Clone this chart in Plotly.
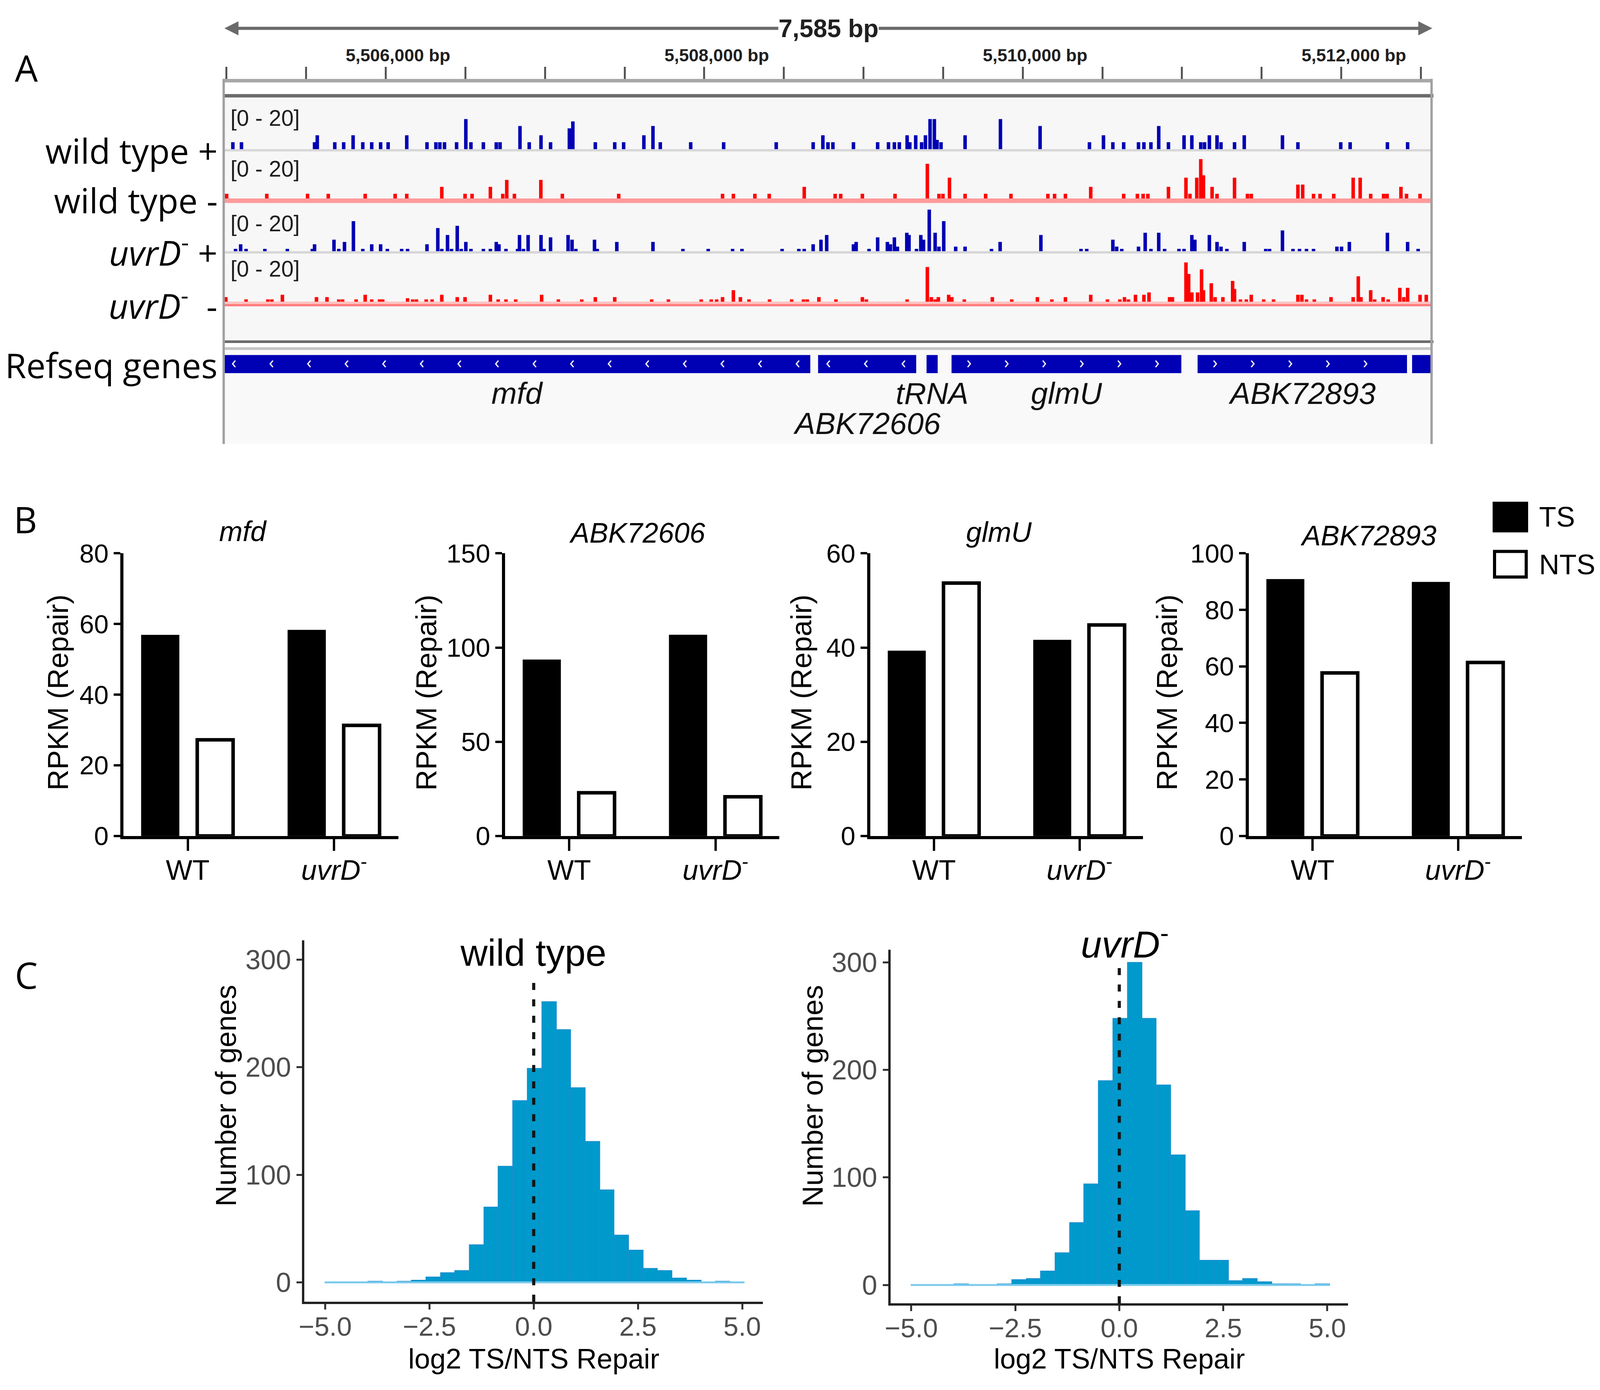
import plotly.graph_objects as go

# reference is 4278 x 3558; the photographed page shows 4096 x 3558 css px
# with the usual 8 px body margin, so positions are mapped into that area
REF_W, REF_H = 4278, 3558
VIEW_W, MARGIN = 4096, 8
W, H = VIEW_W - MARGIN, REF_H - MARGIN
SX = VIEW_W / REF_W
FS = 0.975


def fx(p):
    return (p * SX - MARGIN) / W


def fy(p):
    return 1 - (p - MARGIN) / H


def fs(size):
    return round(size * FS)


# ---------------- panel A : genome browser view ----------------
view_start = 5504987
view_end = 5512572
ruler_ticks = list(range(5505000, 5512600, 500))
ruler_labels = [5506000, 5508000, 5510000, 5512000]

wt_plus_pos = [
    5505040, 5505094, 5505553, 5505570, 5505680, 5505736, 5505795, 5505856, 5505912, 5505968,
    5506015, 5506132, 5506259, 5506315, 5506340, 5506369, 5506445, 5506503, 5506535, 5506613,
    5506694, 5506718, 5506843, 5506901, 5506975, 5507035, 5507153, 5507175, 5507316, 5507438,
    5507494, 5507621, 5507678, 5507724, 5507915, 5508122, 5508452, 5508684, 5508745, 5508777,
    5508808, 5508937, 5509089, 5509157, 5509194, 5509225, 5509274, 5509291, 5509328, 5509365,
    5509389, 5509418, 5509445, 5509462, 5509487, 5509638, 5509860, 5510109, 5510419, 5510507,
    5510566, 5510634, 5510727, 5510761, 5510805, 5510854, 5510915, 5511013, 5511062, 5511118,
    5511142, 5511172, 5511220, 5511245, 5511330, 5511391, 5511631, 5511728, 5511997, 5512056,
    5512290, 5512417,
]
wt_plus_val = [
    3, 3, 3, 6, 3, 3, 6, 3, 3, 3,
    3, 6, 3, 3, 3, 3, 3, 13, 3, 3,
    3, 3, 10, 3, 6, 3, 9, 12, 3, 3,
    3, 6, 10, 3, 3, 3, 3, 3, 6, 3,
    3, 3, 3, 3, 3, 3, 6, 3, 6, 3,
    6, 13, 13, 4, 3, 6, 13, 10, 3, 6,
    3, 3, 3, 3, 3, 10, 3, 6, 6, 3,
    3, 6, 6, 3, 3, 6, 6, 3, 3, 3,
    3, 3,
]

wt_minus_pos = [
    5505001, 5505253, 5505509, 5505639, 5505871, 5506059, 5506132, 5506352, 5506498, 5506542,
    5506657, 5506735, 5506760, 5506808, 5506974, 5507109, 5507463, 5508115, 5508183, 5508318,
    5508408, 5508628, 5508822, 5508857, 5508993, 5509198, 5509401, 5509474, 5509499, 5509540,
    5509638, 5509767, 5509926, 5510158, 5510200, 5510268, 5510427, 5510634, 5510720, 5510756,
    5510786, 5510915, 5511025, 5511050, 5511093, 5511118, 5511135, 5511189, 5511220, 5511330,
    5511411, 5511435, 5511728, 5511758, 5511826, 5511867, 5511953, 5512075, 5512119, 5512185,
    5512266, 5512288, 5512375, 5512410, 5512495,
]
wt_minus_val = [
    2, 2, 2, 2, 2, 2, 2, 5, 2, 2,
    5, 2, 8, 2, 8, 2, 2, 2, 2, 2,
    2, 5, 2, 2, 2, 2, 15, 2, 2, 9,
    2, 2, 2, 2, 2, 2, 5, 2, 2, 2,
    2, 5, 9, 2, 9, 17, 10, 5, 2, 9,
    2, 2, 6, 6, 2, 2, 2, 9, 9, 2,
    2, 2, 5, 2, 2,
]

uvrd_plus_pos = [
    5505057, 5505089, 5505123, 5505241, 5505382, 5505539, 5505553, 5505675, 5505705, 5505741,
    5505797, 5505856, 5505912, 5505968, 5506010, 5506100, 5506137, 5506259, 5506327, 5506352,
    5506388, 5506413, 5506449, 5506474, 5506503, 5506535, 5506613, 5506657, 5506694, 5506711,
    5506755, 5506828, 5506840, 5506865, 5506894, 5506975, 5506994, 5507035, 5507145, 5507170,
    5507194, 5507311, 5507328, 5507451, 5507678, 5507866, 5508025, 5508178, 5508237, 5508489,
    5508594, 5508628, 5508684, 5508733, 5508769,
    5508937, 5508954, 5509035, 5509089, 5509150, 5509169, 5509194, 5509213, 5509272, 5509286,
    5509333, 5509360, 5509377, 5509413, 5509450, 5509474, 5509504, 5509579, 5509638, 5509804,
    5509858, 5510114, 5510366, 5510402, 5510566, 5510590, 5510622, 5510727, 5510769, 5510805,
    5510854, 5510891, 5510981, 5511013, 5511062, 5511081, 5511172, 5511220, 5511245, 5511282,
    5511391, 5511526, 5511550, 5511631, 5511697, 5511738, 5511782, 5511826, 5511973, 5512002,
    5512051, 5512290, 5512417, 5512483,
]
uvrd_plus_val = [
    1, 3, 1, 1, 1, 1, 3, 5, 1, 4,
    13, 1, 3, 3, 1, 1, 1, 3, 10, 1,
    7, 1, 11, 1, 4, 1, 1, 1, 4, 3,
    1, 1, 7, 1, 7, 7, 1, 6, 7, 5,
    1, 5, 1, 4, 4, 1, 1, 1, 1, 1,
    1, 1, 3, 5, 7,
    3, 4, 1, 6, 4, 3, 6, 2, 8, 7,
    1, 7, 5, 18, 8, 2, 13, 2, 2, 1,
    4, 7, 1, 1, 5, 2, 1, 2, 8, 1,
    8, 1, 1, 1, 7, 5, 7, 4, 2, 1,
    4, 1, 1, 9, 1, 1, 1, 1, 2, 2,
    4, 8, 4, 1,
]

uvrd_minus_pos = [
    5504996, 5505123, 5505260, 5505285, 5505351, 5505565, 5505631, 5505705, 5505729, 5505814,
    5505871, 5505912, 5505961, 5505981, 5506137, 5506169, 5506193, 5506254, 5506291, 5506352,
    5506449, 5506498, 5506657, 5506706, 5506755, 5506816, 5506979, 5507084, 5507231, 5507316,
    5507438, 5507670, 5507775, 5507981, 5508044, 5508078, 5508115, 5508183, 5508227, 5508281,
    5508410, 5508549, 5508623, 5508647, 5508720,
    5508827, 5508993, 5509018, 5509274, 5509401, 5509426, 5509450, 5509470, 5509535, 5509555,
    5509633, 5509809, 5509931, 5510092, 5510183, 5510268, 5510427, 5510532, 5510610, 5510639,
    5510664, 5510708, 5510761, 5510793, 5510922, 5510940, 5511025, 5511042, 5511062, 5511098,
    5511123, 5511135, 5511184, 5511208, 5511257, 5511318, 5511330, 5511367, 5511404, 5511435,
    5511513, 5511575, 5511728, 5511753, 5511782, 5511831, 5511936, 5512075, 5512107, 5512124,
    5512185, 5512210, 5512263, 5512295, 5512368, 5512393, 5512417, 5512495, 5512534,
]
uvrd_minus_val = [
    2, 1, 1, 1, 3, 2, 2, 1, 1, 1,
    3, 1, 1, 1, 1.5, 1, 1, 1, 1, 3,
    2, 2, 3, 1, 1, 1, 3, 1, 1, 2,
    2, 1, 1, 1, 1, 1, 2, 5, 2, 1,
    1, 1, 1, 1, 2,
    1, 2, 1, 1, 15, 2, 1, 2, 3, 2,
    1, 2, 1, 2, 1, 2, 3, 1, 1, 2,
    1, 3, 3, 4, 2, 2, 17, 12, 4, 4,
    14, 5, 8, 2, 2, 9, 5.5, 1, 1, 3,
    1, 1, 3, 3, 1, 1, 2, 2, 11, 2,
    5, 1, 2, 1, 6, 2, 6, 3, 3,
]

gene_names = ["mfd", "ABK72606", "tRNA", "glmU", "ABK72893", ""]
gene_start = [5504500, 5508715, 5509396, 5509553, 5511098, 5512445]
gene_end = [5508666, 5509331, 5509466, 5510996, 5512413, 5513100]
gene_strand = ["-", "-", "", "+", "+", "+"]
gene_label_row = [0, 1, 0, 0, 0, 0]

# ---------------- panel B : RPKM bars ----------------
genes_b = ["mfd", "ABK72606", "glmU", "ABK72893"]
strains = ["WT", "uvrD-"]
strain_labels = ["WT", "<i>uvrD</i><sup>-</sup>"]
ts_rpkm = [[56.6, 58.0], [93.0, 106.2], [39.1, 41.4], [90.5, 89.5]]
nts_rpkm = [[27.2, 31.3], [22.9, 20.8], [53.7, 44.8], [57.7, 61.4]]
b_ymax = [80, 150, 60, 100]
b_dtick = [20, 50, 20, 20]

# ---------------- panel C : histograms ----------------
bin_centers = [-4.84, -4.49, -4.15, -3.80, -3.45, -3.10, -2.76, -2.41, -2.06, -1.72,
               -1.37, -1.02, -0.68, -0.33, 0.02, 0.37, 0.71, 1.06, 1.41, 1.75,
               2.10, 2.45, 2.79, 3.14, 3.49, 3.84, 4.18, 4.53, 4.88]
bin_width = 0.347
wt_counts = [0, 0, 0, 1, 0, 1, 2, 5, 9, 11,
             35, 70, 108, 169, 199, 261, 235, 181, 131, 86,
             44, 30, 13, 11, 4, 2, 0, 1, 0]
uvrd_counts = [0, 0, 0, 1, 0, 0, 1, 5, 6, 13,
               30, 58, 94, 190, 248, 300, 248, 186, 121, 69,
               23, 23, 4, 6, 3, 1, 1, 0, 1]
wt_vline_top = 285
uvrd_vline_top = 300

BLUE = "#0000b4"
RED = "#ff0000"
HIST = "#0099cc"
SANS = "Liberation Sans"
IGV = "Open Sans"

fig = go.Figure()
shapes = []
ann = []

# track frame and backgrounds
A_L, A_R = 586.5, 3828
shapes += [
    dict(type="rect", xref="paper", yref="paper", x0=fx(A_L), x1=fx(A_R), y0=fy(216), y1=fy(851),
         fillcolor="#f7f7f7", line_width=0, layer="below"),
    dict(type="rect", xref="paper", yref="paper", x0=fx(A_L), x1=fx(A_R), y0=fy(876), y1=fy(1122),
         fillcolor="#f9f9f9", line_width=0, layer="below"),
    dict(type="rect", xref="paper", yref="paper", x0=fx(A_L - 3), x1=fx(A_R + 3), y0=fy(207), y1=fy(216),
         fillcolor="#6b6b6b", line_width=0),
    dict(type="rect", xref="paper", yref="paper", x0=fx(A_L - 3), x1=fx(A_R + 3), y0=fy(851), y1=fy(858),
         fillcolor="#6b6b6b", line_width=0),
    dict(type="rect", xref="paper", yref="paper", x0=fx(A_L), x1=fx(A_R), y0=fy(869), y1=fy(876),
         fillcolor="#c4c4c4", line_width=0),
    dict(type="line", xref="paper", yref="paper", x0=fx(A_L - 2), x1=fx(A_L - 2), y0=fy(167), y1=fy(1122),
         line=dict(color="#a0a0a0", width=6)),
    dict(type="line", xref="paper", yref="paper", x0=fx(A_R - 2), x1=fx(A_R - 2), y0=fy(167), y1=fy(1122),
         line=dict(color="#a0a0a0", width=6)),
]

# data tracks
tracks = [
    (wt_plus_pos, wt_plus_val, BLUE, "#d6d6d6", (230, 363), 1),
    (wt_minus_pos, wt_minus_val, RED, "#ff9a9a", (359, 492), 2),
    (uvrd_plus_pos, uvrd_plus_val, BLUE, "#d6d6d6", (497, 630), 1),
    (uvrd_minus_pos, uvrd_minus_val, RED, "#ff7c7c", (629, 762), 2),
]
layout_axes = {}
for i, (pos, val, col, band, dom, bw) in enumerate(tracks):
    yname = "y" if i == 0 else f"y{i + 1}"
    layout_axes["yaxis" if i == 0 else f"yaxis{i + 1}"] = dict(
        domain=[fy(dom[1]), fy(dom[0])], range=[-2, 20], anchor="x", visible=False, fixedrange=True)
    shapes.append(dict(type="rect", xref="x", yref=yname, x0=view_start, x1=view_end, y0=-bw, y1=0,
                       fillcolor=band, line_width=0, layer="below"))
    if i == 3:
        shapes.append(dict(type="rect", xref="x", yref=yname, x0=view_start, x1=view_end, y0=-1, y1=0,
                           fillcolor="#ffc4c4", line_width=0, layer="below"))
    fig.add_trace(go.Bar(x=pos, y=val, width=22, marker=dict(color=col, line_width=0),
                         xaxis="x", yaxis=yname, showlegend=False))
    ann.append(dict(text="[0 - 20]", x=fx(601), y=fy([270, 402, 545, 664][i]), xref="paper", yref="paper",
                    xanchor="left", yanchor="middle", showarrow=False,
                    font=dict(family=SANS, size=fs(58), color="#1e1e1e")))

# gene track
layout_axes["yaxis5"] = dict(domain=[fy(937), fy(889)], range=[-0.5, 0.5], anchor="x", visible=False,
                             fixedrange=True)
fig.add_trace(go.Bar(y=[0] * len(gene_start), x=[e - s for s, e in zip(gene_start, gene_end)], base=gene_start,
                     orientation="h", width=1, marker=dict(color=BLUE, line_width=0),
                     xaxis="x", yaxis="y5", showlegend=False))
arrow_x, arrow_t = [], []
for s, e, strand in zip(gene_start, gene_end, gene_strand):
    if strand == "+":
        p = s + 110
        while p < e - 60:
            if view_start + 40 < p < view_end - 40:
                arrow_x.append(p)
                arrow_t.append("›")
            p += 236
    elif strand == "-":
        p = e - 80
        while p > s + 60:
            if view_start + 40 < p < view_end - 40:
                arrow_x.append(p)
                arrow_t.append("‹")
            p -= 236
fig.add_trace(go.Scatter(x=arrow_x, y=[0] * len(arrow_x), mode="text", text=arrow_t,
                         textfont=dict(family=IGV, size=44, color="white"), textposition="middle center",
                         xaxis="x", yaxis="y5", showlegend=False))
for name, s, e, row in zip(gene_names, gene_start, gene_end, gene_label_row):
    if not name:
        continue
    c = (max(s, view_start) + min(e, view_end)) / 2
    ann.append(dict(text=f"<i>{name}</i>", x=c, xref="x", y=fy([990, 1068][row]), yref="paper",
                    showarrow=False, xanchor="center", yanchor="middle",
                    font=dict(family=SANS, size=fs(80), color="#111")))

# ruler
fig.add_trace(go.Scatter(x=[], y=[], xaxis="x2", yaxis="y", showlegend=False))
for v in ruler_labels:
    ann.append(dict(text=f"<b>{v:,} bp</b>", x=v, xref="x2", y=fy(106), yref="paper", xshift=32,
                    showarrow=False, xanchor="center", yanchor="middle",
                    font=dict(family=SANS, size=fs(46), color="#202020")))
mid = (view_start + view_end) / 2
for end, off in ((view_start, 1500), (view_end, -1500)):
    ann.append(dict(text="", x=end, xref="x2", y=fy(35), yref="paper", ax=off, ay=0,
                    axref="pixel", ayref="pixel", showarrow=True, arrowhead=2, arrowsize=0.9,
                    arrowwidth=8, arrowcolor="#6a6a6a", standoff=0))
ann.append(dict(text=f"<b>{view_end - view_start:,} bp</b>", x=mid, xref="x2", y=fy(36), yref="paper",
                showarrow=False, xanchor="center", yanchor="middle", bgcolor="white", borderpad=0,
                font=dict(family=SANS, size=fs(66), color="#202020")))

# row labels
row_labels = ["wild type +", "wild type -", "<i>uvrD</i><sup>-</sup> +", "<i>uvrD</i><sup>-</sup>  -",
              "Refseq genes"]
row_y = [354, 484, 616, 755, 915]
for t, yy in zip(row_labels, row_y):
    ann.append(dict(text=t, x=fx(570), y=fy(yy), xref="paper", yref="paper", xanchor="right",
                    yanchor="middle", showarrow=False, font=dict(family=IGV, size=fs(90), color="black")))

# ---------------- panel B ----------------
b_x0 = [316, 1340, 2320, 3336]
b_x1 = [1053, 2076, 3052, 4068]
b_title_x = [636, 1694, 2665, 3656]
b_title_y = [1350, 1354, 1352, 1362]
b_ytitle_x = [140, 1129, 2135, 3116]
for i in range(4):
    xn, yn = f"x{3 + i}", f"y{6 + i}"
    fig.add_trace(go.Bar(x=strains, y=ts_rpkm[i], width=0.245, offset=-0.31,
                         marker=dict(color="black", line=dict(color="black", width=6)),
                         xaxis=xn, yaxis=yn, showlegend=False))
    fig.add_trace(go.Bar(x=strains, y=nts_rpkm[i], width=0.245, offset=0.065,
                         marker=dict(color="white", line=dict(color="black", width=9)),
                         xaxis=xn, yaxis=yn, showlegend=False))
    layout_axes[f"xaxis{3 + i}"] = dict(
        domain=[fx(b_x0[i]), fx(b_x1[i])], anchor=yn, type="category", categoryorder="array",
        categoryarray=strains, tickvals=strains, ticktext=strain_labels, range=[-0.4375, 1.4375],
        showline=True, linecolor="black", linewidth=8, ticks="outside", ticklen=30, tickwidth=6,
        tickcolor="black", tickfont=dict(family=SANS, size=fs(74), color="black"), showgrid=False,
        ticklabelstandoff=-12, zeroline=False, fixedrange=True)
    layout_axes[f"yaxis{6 + i}"] = dict(
        domain=[fy(2147), fy(1408)], anchor=xn, range=[0, b_ymax[i]], tick0=0, dtick=b_dtick[i],
        showline=True, linecolor="black", linewidth=8, ticks="outside", ticklen=17, tickwidth=6,
        tickcolor="black", tickfont=dict(family=SANS, size=fs(69), color="black"), showgrid=False,
        zeroline=False, fixedrange=True)
    ann.append(dict(text=f"<i>{genes_b[i]}</i>", x=fx(b_title_x[i]), y=fy(b_title_y[i]), xref="paper",
                    yref="paper", showarrow=False, xanchor="center", yanchor="middle",
                    font=dict(family=SANS, size=fs(74), color="black")))
    ann.append(dict(text="RPKM (Repair)", x=fx(b_ytitle_x[i]), y=fy(1772), xref="paper", yref="paper",
                    showarrow=False, textangle=-90, xanchor="center", yanchor="middle",
                    font=dict(family=SANS, size=fs(76), color="black")))

# legend of panel B
shapes += [
    dict(type="rect", xref="paper", yref="paper", x0=fx(3993), x1=fx(4082), y0=fy(1350), y1=fy(1276),
         fillcolor="black", line=dict(color="black", width=6)),
    dict(type="rect", xref="paper", yref="paper", x0=fx(3995), x1=fx(4080), y0=fy(1470), y1=fy(1403),
         fillcolor="white", line=dict(color="black", width=8)),
]
for t, yy in (("TS", 1313), ("NTS", 1437)):
    ann.append(dict(text=t, x=fx(4112), y=fy(yy), xref="paper", yref="paper", xanchor="left",
                    yanchor="middle", showarrow=False, font=dict(family=SANS, size=fs(74), color="black")))

# ---------------- panel C ----------------
hists = [
    (wt_counts, wt_vline_top, "x7", "y10", (801, 2032), (2420, 3365), [-18, 318], 1416,
     "wild type", 2452),
    (uvrd_counts, uvrd_vline_top, "x8", "y11", (2374, 3602), (2444, 3369), [-17, 312], 3003,
     "<i>uvrD</i><sup>-</sup>", 2424),
]
for k, (counts, vtop, xn, yn, xd, yd, yr, tx, title, ty) in enumerate(hists):
    lo = bin_centers[0] - bin_width / 2
    hi = bin_centers[-1] + bin_width / 2
    fig.add_trace(go.Scatter(x=[lo, hi], y=[0, 0], mode="lines", line=dict(color="#7ccbec", width=5),
                             xaxis=xn, yaxis=yn, showlegend=False))
    fig.add_trace(go.Bar(x=bin_centers, y=counts, width=bin_width,
                         marker=dict(color=HIST, line=dict(color="#1b8fcf", width=2)),
                         xaxis=xn, yaxis=yn, showlegend=False))
    fig.add_trace(go.Scatter(x=[0, 0], y=[yr[0], vtop], mode="lines",
                             line=dict(color="#151515", width=8, dash="18px,24px"),
                             xaxis=xn, yaxis=yn, showlegend=False))
    layout_axes[f"xaxis{7 + k}"] = dict(
        domain=[fx(xd[0]), fx(xd[1])], anchor=yn, range=[-5.5, 5.5], tickvals=[-5, -2.5, 0, 2.5, 5],
        tickformat=".1f", showline=True, linecolor="#222", linewidth=6, ticks="outside", ticklen=14,
        tickwidth=5, tickcolor="#333", tickfont=dict(family=SANS, size=fs(71), color="#4d4d4d"),
        ticklabelstandoff=-16, showgrid=False, zeroline=False, fixedrange=True)
    layout_axes[f"yaxis{10 + k}"] = dict(
        domain=[fy(yd[1]), fy(yd[0])], anchor=xn, range=yr, tickvals=[0, 100, 200, 300],
        showline=True, linecolor="#222", linewidth=6, ticks="outside", ticklen=14, tickwidth=5,
        tickcolor="#333", tickfont=dict(family=SANS, size=fs(72), color="#4d4d4d"), showgrid=False,
        zeroline=False, fixedrange=True)
    ann.append(dict(text=title, x=fx(tx), y=fy(ty), xref="paper", yref="paper", showarrow=False,
                    xanchor="center", yanchor="middle", font=dict(family=SANS, size=fs(98), color="black")))
    ann.append(dict(text="log2 TS/NTS Repair", x=fx((xd[0] + xd[1]) / 2), y=fy(3514), xref="paper",
                    yref="paper", showarrow=False, xanchor="center", yanchor="middle",
                    font=dict(family=SANS, size=fs(74), color="black")))
    ann.append(dict(text="Number of genes", x=fx([591, 2165][k]), y=fy(2826), xref="paper", yref="paper",
                    showarrow=False, textangle=-90, xanchor="center", yanchor="middle",
                    font=dict(family=SANS, size=fs(76), color="black")))

# panel letters
for t, xx, yy in (("A", 55, 138), ("B", 52, 1319), ("C", 55, 2510)):
    ann.append(dict(text=t, x=fx(xx), y=fy(yy), xref="paper", yref="paper", showarrow=False,
                    xanchor="center", yanchor="middle", font=dict(family=IGV, size=fs(95), color="black")))

fig.update_layout(
    width=W, height=H, margin=dict(l=0, r=0, t=0, b=0),
    paper_bgcolor="white", plot_bgcolor="rgba(0,0,0,0)",
    barmode="overlay", showlegend=False, font=dict(family=SANS, color="black"),
    xaxis=dict(domain=[fx(A_L), fx(A_R)], range=[view_start, view_end], anchor="y", visible=False,
               fixedrange=True),
    xaxis2=dict(domain=[fx(A_L), fx(A_R)], range=[view_start, view_end], anchor="free",
                position=fy(171.5), side="top", showline=True, linecolor="#a8a8a8", linewidth=9,
                ticks="outside", ticklen=31, tickwidth=5, tickcolor="#555555", tickvals=ruler_ticks,
                showticklabels=False, showgrid=False, zeroline=False, fixedrange=True),
    shapes=shapes,
    annotations=ann,
    **layout_axes,
)

fig.write_html("out.html")
